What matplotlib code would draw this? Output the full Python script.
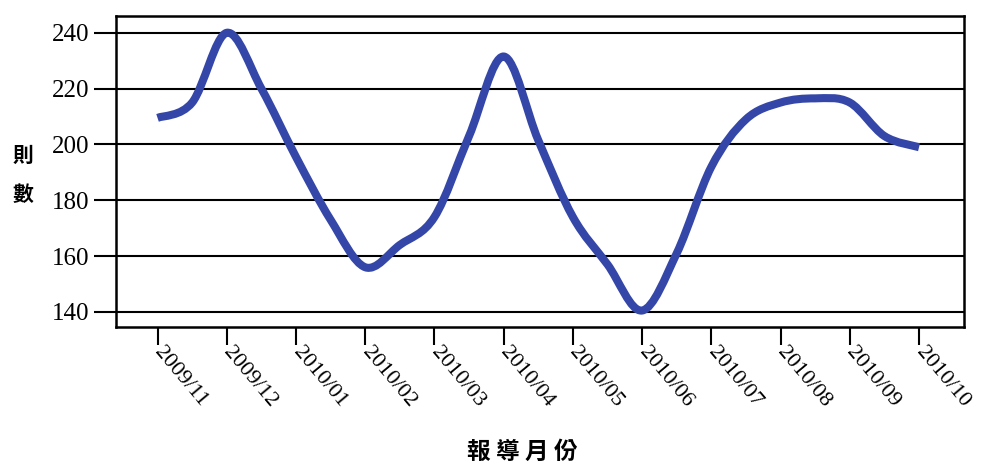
import numpy as np
import matplotlib
matplotlib.use("Agg")
import matplotlib.pyplot as plt
from matplotlib.path import Path
from matplotlib.patches import PathPatch

# month labels on the x axis
months = ['2009/11', '2009/12', '2010/01', '2010/02', '2010/03', '2010/04',
          '2010/05', '2010/06', '2010/07', '2010/08', '2010/09', '2010/10']

# curve every half month (first value = 2009/11)
counts = [209.5, 215, 240, 220, 195.5, 173, 156, 164, 174, 203, 231.5, 201.5,
          174, 157, 140.5, 161, 192, 209, 215, 216.5, 215, 203, 199]

yticks = [140, 160, 180, 200, 220, 240]

pos = np.arange(len(counts)) / 2.0
pts = np.column_stack([pos, counts])

# smooth line (Catmull-Rom as bezier segments, like excel "smoothed line")
ext = np.vstack([pts[0], pts, pts[-1]])
verts = [tuple(pts[0])]
codes = [Path.MOVETO]
for i in range(1, len(ext) - 2):
    p0, p1, p2, p3 = ext[i - 1], ext[i], ext[i + 1], ext[i + 2]
    c1 = p1 + (p2 - p0) / 6.0
    c2 = p2 - (p3 - p1) / 6.0
    verts += [tuple(c1), tuple(c2), tuple(p2)]
    codes += [Path.CURVE4] * 3

fig = plt.figure(figsize=(9.84, 4.67), dpi=100)
ax = fig.add_axes([0.1179, 0.2998, 0.8618, 0.6659])

for y in yticks:
    ax.axhline(y, color='black', lw=1.5, zorder=1)

ax.add_patch(PathPatch(Path(verts, codes), fill=False, edgecolor='#3447a8',
                       lw=5.8, capstyle='butt', joinstyle='round', zorder=3))

ax.set_xlim(-0.6, 11.65)
ax.set_ylim(134.6, 246)

ax.set_yticks(yticks)
ax.set_yticklabels([str(v) for v in yticks], fontfamily='Liberation Serif',
                   fontsize=18)
ax.tick_params(axis='y', direction='out', length=16, width=1.5, pad=3,
               color='black')

ax.set_xticks(range(len(months)))
ax.set_xticklabels(months, fontfamily='Liberation Serif', fontsize=16,
                   rotation=-50, ha='left', va='center', rotation_mode='anchor')
ax.tick_params(axis='x', direction='out', length=13, width=1.5, pad=3,
               color='black')

for s in ax.spines.values():
    s.set_linewidth(1.8)
    s.set_color('black')

cjk = ['Noto Sans CJK TC', 'DejaVu Sans']
fig.text(23 / 984, 1 - 155 / 467, '則', family=cjk, fontsize=15,
         fontweight='bold', ha='center', va='center')
fig.text(23 / 984, 1 - 194 / 467, '數', family=cjk, fontsize=15,
         fontweight='bold', ha='center', va='center')
fig.text(522 / 984, 1 - 452 / 467, '報 導 月 份', family=cjk, fontsize=17,
         fontweight='bold', ha='center', va='center')

fig.savefig('out.png', dpi=100)
